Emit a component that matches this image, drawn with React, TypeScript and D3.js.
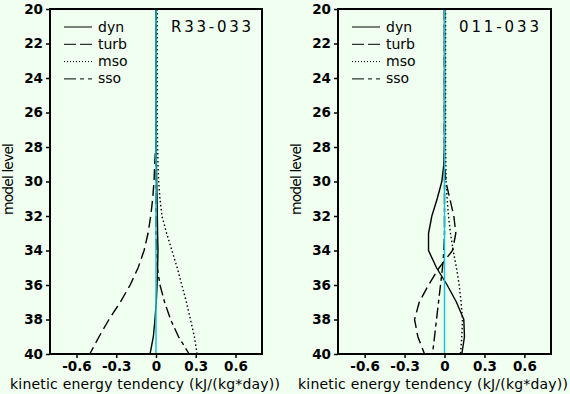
import * as d3 from "d3";
import { useEffect, useRef } from "react";

const levels = d3.range(20, 41);
const yTicks = [20, 22, 24, 26, 28, 30, 32, 34, 36, 38, 40];
const xTicks = [-0.6, -0.3, 0, 0.3, 0.6];
const seriesNames = ["dyn", "turb", "mso", "sso"];
const panelTitles = ["R33-033", "011-033"];

// values per model level 20..40
const dynR33 = [0, 0, 0, 0, 0, 0, 0, 0, 0, 0.003, 0.005, 0.008, 0.01, 0.012, 0.015, 0.012, 0.008, 0.002, -0.008, -0.02, -0.045];
const turbR33 = [0, 0, 0, 0, 0, 0, 0, 0, -0.002, -0.01, -0.015, -0.025, -0.04, -0.06, -0.09, -0.135, -0.195, -0.27, -0.355, -0.43, -0.5];
const msoR33 = [0.01, 0.01, 0.01, 0.01, 0.01, 0.01, 0.01, 0.01, 0.012, 0.015, 0.02, 0.03, 0.045, 0.08, 0.12, 0.16, 0.195, 0.23, 0.26, 0.29, 0.31];
const ssoR33 = [0, 0, 0, 0, 0, 0, 0, 0, 0, 0, 0, 0, 0, 0, 0.005, 0.01, 0.03, 0.065, 0.11, 0.17, 0.25];

const dyn011 = [0, 0, 0, 0, 0, 0, 0, 0, 0, -0.005, -0.02, -0.055, -0.095, -0.12, -0.12, -0.06, 0.02, 0.09, 0.145, 0.15, 0.13];
const turb011 = [0, 0, 0, 0, 0, 0, 0, 0, 0, 0, 0.01, 0.04, 0.07, 0.085, 0.06, -0.04, -0.12, -0.19, -0.225, -0.2, -0.15];
const mso011 = [0.008, 0.008, 0.008, 0.008, 0.008, 0.008, 0.008, 0.008, 0.008, 0.01, 0.012, 0.02, 0.03, 0.045, 0.065, 0.09, 0.11, 0.125, 0.135, 0.13, 0.12];
const sso011 = [0, 0, 0, 0, 0, 0, 0, 0, 0, 0, 0, 0, 0, 0, -0.005, -0.015, -0.03, -0.045, -0.06, -0.075, -0.09];

const panelData = [
  [dynR33, turbR33, msoR33, ssoR33],
  [dyn011, turb011, mso011, sso011],
];

const dashes = [null, "11,5", "1.5,2.5", "11,4,4,4"];

const App = () => {
  const ref = useRef(null);

  useEffect(() => {
    const svg = d3.select(ref.current);
    svg.selectAll("*").remove();

    svg.append("rect").attr("width", 570).attr("height", 394).attr("fill", "#f0fff0");

    const panels = [
      { left: 50, right: 262 },
      { left: 338, right: 551 },
    ];
    const top = 9,
      bottom = 354;

    panels.forEach((p, i) => {
      const x = d3.scaleLinear().domain([-0.8, 0.8]).range([p.left, p.right]);
      const y = d3.scaleLinear().domain([20, 40]).range([top, bottom]);
      const g = svg.append("g");

      // data lines
      panelData[i].forEach((vals, k) => {
        const line = d3
          .line()
          .x((d) => x(d))
          .y((d, j) => y(levels[j]));
        g.append("path")
          .attr("d", line(vals))
          .attr("fill", "none")
          .attr("stroke", "#000")
          .attr("stroke-width", 1.4)
          .attr("stroke-dasharray", dashes[k]);
      });

      // zero line
      g.append("line")
        .attr("x1", x(0))
        .attr("x2", x(0))
        .attr("y1", top)
        .attr("y2", bottom)
        .attr("stroke", "#10c8d0")
        .attr("stroke-width", 1.5);

      // frame
      g.append("rect")
        .attr("x", p.left)
        .attr("y", top)
        .attr("width", p.right - p.left)
        .attr("height", bottom - top)
        .attr("fill", "none")
        .attr("stroke", "#000")
        .attr("stroke-width", 2);

      const xAxis = g
        .append("g")
        .attr("transform", `translate(0,${bottom})`)
        .call(
          d3
            .axisBottom(x)
            .tickValues(xTicks)
            .tickSize(4)
            .tickFormat((d) => (d === 0 ? "0" : d3.format(".1f")(d).replace("−", "-")))
        );
      xAxis.select(".domain").remove();
      xAxis.selectAll("line").attr("stroke-width", 1.5);
      xAxis
        .selectAll("text")
        .attr("y", 7)
        .attr("font-family", "DejaVu Sans")
        .attr("font-weight", "bold")
        .attr("font-size", 13.5)
        .attr("fill", "#000");

      const yAxis = g
        .append("g")
        .attr("transform", `translate(${p.left},0)`)
        .call(d3.axisLeft(y).tickValues(yTicks).tickSize(4));
      yAxis.select(".domain").remove();
      yAxis.selectAll("line").attr("stroke-width", 1.5);
      yAxis
        .selectAll("text")
        .attr("x", -7)
        .attr("font-family", "DejaVu Sans")
        .attr("font-weight", "bold")
        .attr("font-size", 13.5)
        .attr("fill", "#000");

      // axis titles
      g.append("text")
        .attr("x", p.left - 40)
        .attr("y", 389)
        .attr("font-family", "DejaVu Sans")
        .attr("font-size", 14)
        .attr("textLength", 270)
        .text("kinetic energy tendency (kJ/(kg*day))");
      g.append("text")
        .attr("transform", `translate(${p.left - 37},179) rotate(-90)`)
        .attr("text-anchor", "middle")
        .attr("font-family", "DejaVu Sans")
        .attr("font-size", 14)
        .attr("textLength", 72)
        .text("model level");

      // legend
      seriesNames.forEach((name, k) => {
        const ly = 27 + k * 17.3;
        g.append("line")
          .attr("x1", p.left + 14)
          .attr("x2", p.left + 42)
          .attr("y1", ly)
          .attr("y2", ly)
          .attr("stroke", "#000")
          .attr("stroke-width", 1)
          .attr("stroke-dasharray", k === 1 ? "12,4" : k === 2 ? "1,2" : k === 3 ? "12,4,4,4" : null);
        g.append("text")
          .attr("x", p.left + 48)
          .attr("y", ly + 4.5)
          .attr("font-family", "DejaVu Sans")
          .attr("font-size", 14)
          .text(name);
      });

      g.append("text")
        .attr("x", p.left + 121)
        .attr("y", 32)
        .attr("font-family", "DejaVu Sans")
        .attr("font-size", 15)
        .attr("textLength", 80)
        .text(panelTitles[i]);
    });
  });

  return <svg ref={ref} width={570} height={394} style={{ position: "absolute", left: 0, top: 0 }} />;
};

export default App;
